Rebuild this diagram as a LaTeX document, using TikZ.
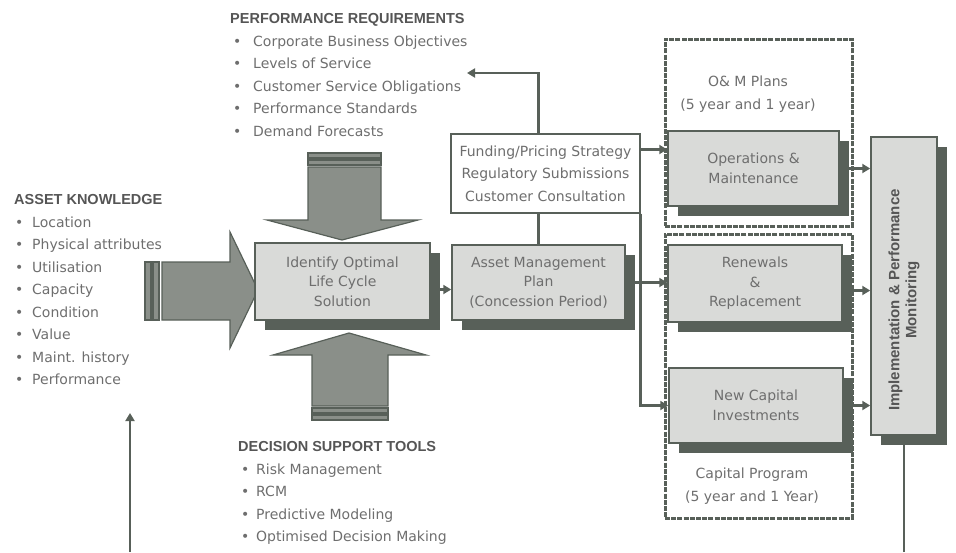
\documentclass[tikz,border=0pt]{standalone}
\usepackage{fontspec}
\setmainfont{DejaVu Sans}
\newfontfamily\hdfont{Liberation Sans}
\usetikzlibrary{arrows.meta,shadows}
\definecolor{dk}{HTML}{586059}
\definecolor{mid}{HTML}{8A8F89}
\definecolor{lt}{HTML}{D9DAD8}
\definecolor{txt}{HTML}{6E6E6E}
\definecolor{hd}{HTML}{555555}
\newcommand\bodyfont{\fontsize{14}{19.5}\selectfont}
\newcommand\listfont{\fontsize{14}{22.5}\selectfont}
\newcommand\hdr[1]{{\hdfont\bfseries\fontsize{14.5}{22.5}\selectfont\color{hd}#1}}
\newcommand\itm[3]{\hspace*{#1}\makebox[#2][l]{\textbullet}#3}

\begin{document}
\begin{tikzpicture}[x=1pt, y=-1pt,
    box/.style={rectangle, draw=dk, fill=lt, line width=1.5pt, text=txt,
      align=center, font=\bodyfont, inner sep=0pt,
      general shadow={fill=dk, shadow xshift=10pt, shadow yshift=-10pt}},
    infobox/.style={rectangle, draw=dk, fill=white, line width=1.2pt,
      text=txt, align=center, font=\listfont, inner sep=0pt},
    dashframe/.style={rectangle, draw=dk, line width=3pt,
      dash pattern=on 5pt off 1.2pt, inner sep=0pt},
    list/.style={align=left, text=txt, font=\listfont, inner sep=0pt,
      anchor=north west},
    note/.style={align=center, text=txt, font=\listfont, inner sep=0pt},
    bigarr/.style={fill=mid, draw=dk, line width=1.2pt},
    conn/.style={draw=dk, line width=2.8pt,
      -{Triangle[length=8pt,width=9pt]}},
    line/.style={draw=dk, line width=2.8pt}
  ]
    \useasboundingbox (0,0) rectangle (956,552);

    % Listas
    \node[list] (perf) at (230,13.5) {\hdr{PERFORMANCE REQUIREMENTS}\\
      \itm{3pt}{20pt}{Corporate Business Objectives}\\
      \itm{3pt}{20pt}{Levels of Service}\\
      \itm{3pt}{20pt}{Customer Service Obligations}\\
      \itm{3pt}{20pt}{Performance Standards}\\
      \itm{3pt}{20pt}{Demand Forecasts}};
    \node[list] (know) at (14,194.5) {\hdr{ASSET KNOWLEDGE}\\
      \itm{1pt}{17pt}{Location}\\
      \itm{1pt}{17pt}{Physical attributes}\\
      \itm{1pt}{17pt}{Utilisation}\\
      \itm{1pt}{17pt}{Capacity}\\
      \itm{1pt}{17pt}{Condition}\\
      \itm{1pt}{17pt}{Value}\\
      \itm{1pt}{17pt}{Maint. history}\\
      \itm{1pt}{17pt}{Performance}};
    \node[list] (tools) at (238,441.5) {\hdr{DECISION SUPPORT TOOLS}\\
      \itm{3pt}{15pt}{Risk Management}\\
      \itm{3pt}{15pt}{RCM}\\
      \itm{3pt}{15pt}{Predictive Modeling}\\
      \itm{3pt}{15pt}{Optimised Decision Making}};

    % Flechas grandes
    \draw[bigarr] (145,262) rectangle (151,320);
    \draw[bigarr] (153,262) rectangle (159,320);
    \draw[bigarr] (162,262) -- (230,262) -- (230,232) -- (258,290)
      -- (230,348) -- (230,320) -- (162,320) -- cycle;
    \draw[bigarr] (308,153) rectangle (381,158);
    \draw[bigarr] (308,160) rectangle (381,165);
    \draw[bigarr] (308,167) -- (381,167) -- (381,220) -- (418,220)
      -- (342,240) -- (267,220) -- (308,220) -- cycle;
    \draw[bigarr] (312,415) rectangle (388,420);
    \draw[bigarr] (312,408) rectangle (388,413);
    \draw[bigarr] (312,406) -- (388,406) -- (388,355) -- (426,355)
      -- (349,333) -- (273,355) -- (312,355) -- cycle;

    % Marcos
    \node[dashframe, minimum width=187, minimum height=187] (omfr) at (758.5,132.5) {};
    \node[dashframe, minimum width=187, minimum height=284] (capfr) at (758.5,376) {};
    \node[note] (omtxt) at (748,94) {O\& M Plans\\(5 year and 1 year)};
    \node[note] (captxt) at (752,486) {Capital Program\\(5 year and 1 Year)};

    % Cajas
    \node[box, minimum width=175, minimum height=77] (ident) at (342.5,281.5)
      {Identify Optimal\\Life Cycle\\Solution};
    \node[box, minimum width=173, minimum height=75] (amp) at (538.5,282.5)
      {Asset Management\\Plan\\(Concession Period)};
    \node[infobox, minimum width=189, minimum height=79] (fund) at (545.5,173.5)
      {Funding/Pricing Strategy\\Regulatory Submissions\\Customer Consultation};
    \node[box, minimum width=171, minimum height=75] (omb) at (753.5,168.5)
      {Operations \&\\Maintenance};
    \node[box, minimum width=174, minimum height=77] (renew) at (755,283.5)
      {Renewals\\\&\\Replacement};
    \node[box, minimum width=174, minimum height=75] (newcap) at (756,405.5)
      {New Capital\\Investments};
    \node[box, minimum width=66, minimum height=298] (impl) at (904,286) {};
    \node[rotate=90, align=center, inner sep=0pt, text=hd,
      font=\hdfont\bfseries\fontsize{15}{17}\selectfont] (impltxt)
      at ([yshift=-14pt]impl.center) {Implementation \& Performance\\Monitoring};

    % Conexiones
    \coordinate (prq) at (467,73);
    \coordinate (kb) at (130,552);
    \coordinate (kt) at (130,413);
    \coordinate (mb) at (904,552);
    \draw[conn] ([yshift=-8pt]ident.east) -- ([yshift=-8pt]ident.east -| amp.west);
    \draw[line] (amp.north) -- (amp.north |- fund.south);
    \draw[conn] (amp.north |- fund.north) |- (prq);
    \draw[conn] ([yshift=24pt]fund.east) -- ([yshift=24pt]fund.east -| omb.west);
    \draw[conn] (amp.east) -- (amp.east -| renew.west);
    \draw[conn] (fund.south east) |- (newcap.west);
    \draw[conn] (omb.east) -- (omb.east -| impl.west);
    \draw[conn] ([yshift=-7pt]renew.east) -- ([yshift=-7pt]renew.east -| impl.west);
    \draw[conn] (newcap.east) -- (newcap.east -| impl.west);
    \draw[conn] (kb) -- (kt);
    \draw[conn] (mb) -- (impl.south);
  \end{tikzpicture}
\end{document}
